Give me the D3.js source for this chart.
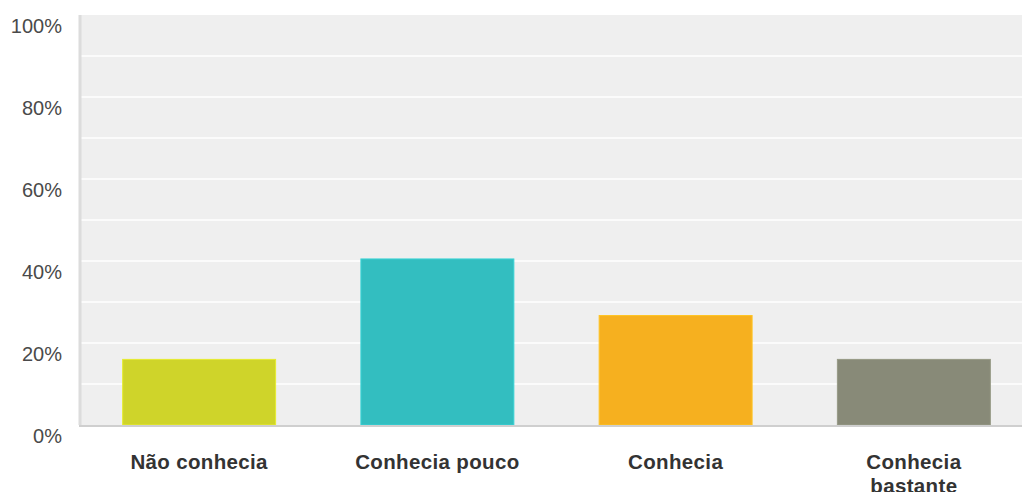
<!DOCTYPE html>
<html>
<head>
<meta charset="utf-8">
<script src="https://cdn.jsdelivr.net/npm/d3@7"></script>
<style>
  html, body { margin: 0; padding: 0; background: #fff; overflow: hidden; }
  svg { display: block; }
</style>
</head>
<body>
<svg id="chart" width="1022" height="492"></svg>
<script>
// Survey answers and their share of respondents (%)
const categories = ["Não conhecia", "Conhecia pouco", "Conhecia", "Conhecia bastante"];
const values = [16.0, 40.5, 26.7, 16.0];
const colors = ["#cfd42a", "#33bec0", "#f6b01f", "#888a78"];
const majorTicks = [0, 20, 40, 60, 80, 100];
const minorTicks = [10, 30, 50, 70, 90];

const svg = d3.select("#chart");
const plot = { left: 80, top: 15, right: 1033, bottom: 425 };

const x = d3.scaleBand()
  .domain(categories)
  .range([plot.left, plot.right])
  .paddingInner(0.358)
  .paddingOuter(0.179);

const y = d3.scaleLinear()
  .domain([0, 100])
  .range([plot.bottom, plot.top]);

// Plot background
svg.append("rect")
  .attr("x", plot.left)
  .attr("y", plot.top)
  .attr("width", plot.right - plot.left)
  .attr("height", plot.bottom - plot.top)
  .attr("fill", "#efefef");

// Grid lines (major and minor)
svg.append("g")
  .selectAll("line")
  .data(majorTicks.concat(minorTicks).filter(d => d > 0 && d < 100))
  .join("line")
  .attr("x1", plot.left)
  .attr("x2", plot.right)
  .attr("y1", d => y(d))
  .attr("y2", d => y(d))
  .attr("stroke", "#fbfbfb")
  .attr("stroke-width", 2);

// Left frame line
svg.append("line")
  .attr("x1", plot.left)
  .attr("x2", plot.left)
  .attr("y1", plot.top)
  .attr("y2", plot.bottom)
  .attr("stroke", "#dcdcdc")
  .attr("stroke-width", 3);

// Bars
svg.append("g")
  .selectAll("rect")
  .data(categories)
  .join("rect")
  .attr("x", d => x(d))
  .attr("width", x.bandwidth())
  .attr("y", (d, i) => y(values[i]))
  .attr("height", (d, i) => y(0) - y(values[i]))
  .attr("fill", (d, i) => colors[i])
  .attr("stroke", (d, i) => d3.color(colors[i]).brighter(0.3))
  .attr("stroke-width", 1);

// Baseline
svg.append("line")
  .attr("x1", plot.left - 1)
  .attr("x2", plot.right)
  .attr("y1", plot.bottom + 1)
  .attr("y2", plot.bottom + 1)
  .attr("stroke", "#cfcfcf")
  .attr("stroke-width", 2);

// Y axis labels
const yAxis = d3.axisLeft(y)
  .tickValues(majorTicks)
  .tickFormat(d => d + "%")
  .tickSize(0)
  .tickPadding(18);

const yg = svg.append("g")
  .attr("transform", `translate(${plot.left},0)`)
  .call(yAxis);
yg.select(".domain").remove();
yg.selectAll("text")
  .attr("font-family", "Liberation Sans, Arial, sans-serif")
  .attr("font-size", 20)
  .attr("fill", "#4a4a4a")
  .attr("dy", "0.85em");

// X axis category labels (wrapped to one word per line when needed)
const xAxis = d3.axisBottom(x).tickSize(0).tickFormat("");
const xg = svg.append("g")
  .attr("transform", `translate(0,${plot.bottom})`)
  .call(xAxis);
xg.select(".domain").remove();

const labels = svg.append("g")
  .selectAll("text")
  .data(categories)
  .join("text")
  .attr("x", d => x(d) + x.bandwidth() / 2)
  .attr("y", 469)
  .attr("text-anchor", "middle")
  .attr("font-family", "Liberation Sans, Arial, sans-serif")
  .attr("font-weight", "bold")
  .attr("font-size", 20.5)
  .attr("letter-spacing", 0.35)
  .attr("fill", "#333");

labels.each(function(d) {
  const t = d3.select(this);
  const lines = d === "Conhecia bastante" ? ["Conhecia", "bastante"] : [d];
  lines.forEach((ln, i) => {
    t.append("tspan")
      .attr("x", x(d) + x.bandwidth() / 2)
      .attr("dy", i === 0 ? 0 : 24)
      .text(ln);
  });
});
</script>
</body>
</html>
